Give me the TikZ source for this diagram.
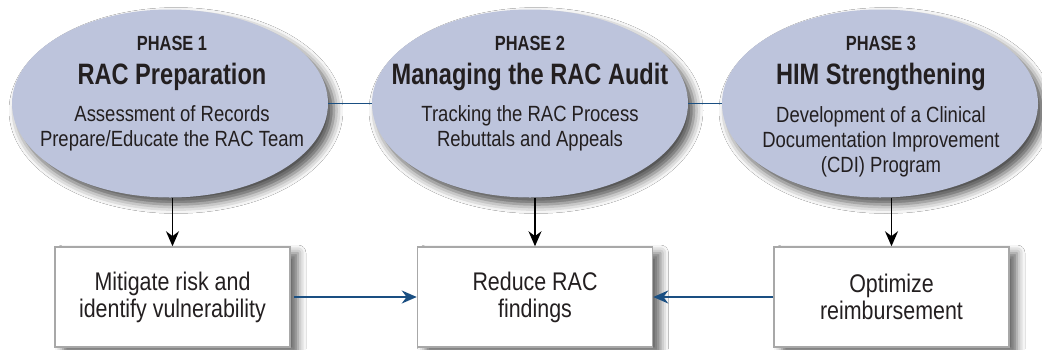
\documentclass[tikz,border=0pt]{standalone}
\usepackage{fontspec}
\setmainfont{Liberation Sans}[FakeStretch=0.84]
\newfontfamily\boldcond{Liberation Sans Bold}[FakeStretch=0.80]
\usetikzlibrary{shapes.geometric,shadows.blur,arrows.meta}
\definecolor{ellfill}{HTML}{BDC4DC}
\definecolor{boxline}{HTML}{A8A8A8}
\definecolor{blueline}{HTML}{1A4F82}
\definecolor{txt}{HTML}{231F20}
\tikzset{
  phase/.style={ellipse,fill=ellfill,minimum width=316pt,minimum height=188pt,inner sep=0pt,
    blur shadow={shadow xshift=6pt,shadow yshift=-7pt,shadow blur radius=9pt,shadow opacity=70}},
  outbox/.style={draw=boxline,line width=1.5pt,fill=white,minimum width=235pt,minimum height=100pt,inner sep=0pt,
    blur shadow={shadow xshift=8pt,shadow yshift=-6pt,shadow blur radius=8pt,shadow opacity=60}},
  phlabel/.style={text=txt,font=\boldcond\fontsize{20.5}{22}\selectfont},
  phtitle/.style={text=txt,font=\boldcond\fontsize{29.5}{32}\selectfont},
  phbody/.style={text=txt,font=\fontsize{22}{25}\selectfont,align=center},
  boxtext/.style={text=txt,font=\fontsize{25.5}{27}\selectfont,align=center},
  downarrow/.style={draw=black,line width=1.6pt,-{Stealth[length=15pt,width=13pt]}},
  bluearrow/.style={draw=blueline,line width=1.8pt,-{Stealth[length=15pt,width=13pt]}},
  blueline/.style={draw=blueline,line width=1.5pt}
}
\begin{document}
\begin{tikzpicture}[x=1pt,y=-1pt]
\useasboundingbox (0,0) rectangle (1042,349);
\fill[white] (0,0) rectangle (1042,349);
% ellipses
\node[phase] (p1) at (170,103.5) {};
\node[phase] (p2) at (530,103.5) {};
\node[phase] (p3) at (880,103.5) {};
% connecting lines
\draw[blueline] (p1.east) -- (p2.west);
\draw[blueline] (p2.east) -- (p3.west);
% ellipse texts
\node[phlabel] (l1) at (172,43) {PHASE 1};
\node[phtitle] (t1) at (172,77) {RAC Preparation};
\node[phbody] (d1) at (172,128.5) {Assessment of Records\\Prepare/Educate the RAC Team};
\node[phlabel] (l2) at (530,43) {PHASE 2};
\node[phtitle] (t2) at (530,77) {Managing the RAC Audit};
\node[phbody] (d2) at (530,128.5) {Tracking the RAC Process\\Rebuttals and Appeals};
\node[phlabel] (l3) at (881,43) {PHASE 3};
\node[phtitle] (t3) at (881,77) {HIM Strengthening};
\node[phbody] (d3) at (881,142) {Development of a Clinical\\Documentation Improvement\\(CDI) Program};
% boxes
\node[outbox] (b1) at (172.5,297) {};
\node[boxtext] at (b1.center) {Mitigate risk and\\identify vulnerability};
\node[outbox] (b2) at (535,297) {};
\node[boxtext] at (b2.center) {Reduce RAC\\findings};
\node[outbox] (b3) at (891.5,297) {};
\node[boxtext] at (b3.center) {Optimize\\reimbursement};
% arrows
\draw[downarrow] (b1.north |- p1.south) -- (b1.north);
\draw[downarrow] (b2.north |- p2.south) -- (b2.north);
\draw[downarrow] (b3.north |- p3.south) -- (b3.north);
\draw[bluearrow] ([xshift=3pt]b1.east) -- (b2.west);
\draw[bluearrow] (b3.west) -- (b2.east);
\end{tikzpicture}
\end{document}
